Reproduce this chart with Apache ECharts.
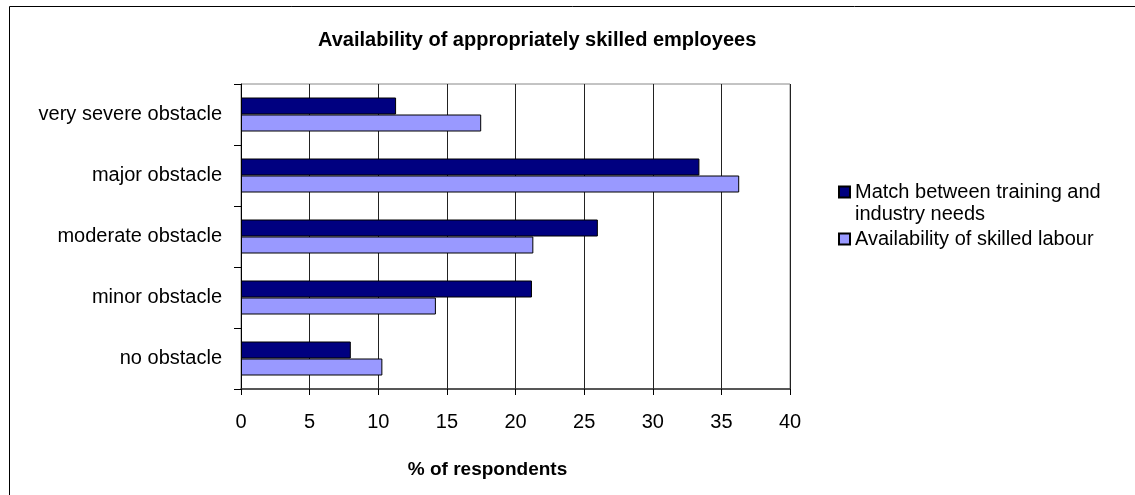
<!DOCTYPE html>
<html>
<head>
<meta charset="utf-8">
<script src="https://cdn.jsdelivr.net/npm/echarts@6/dist/echarts.min.js"></script>
<style>
html,body{margin:0;padding:0;background:#fff;}
#c{width:1135px;height:495px;}
</style>
</head>
<body>
<div id="c"></div>
<script>
var categories = ['very severe obstacle', 'major obstacle', 'moderate obstacle', 'minor obstacle', 'no obstacle'];
var seriesNames = ['Match between training and industry needs', 'Availability of skilled labour'];
var matchValues = [11.3, 33.4, 26.0, 21.2, 8.0];
var skilledValues = [17.5, 36.3, 21.3, 14.2, 10.3];
var xTicks = [0, 5, 10, 15, 20, 25, 30, 35, 40];

var FONT = '"Liberation Sans", Arial, sans-serif';
var chart = echarts.init(document.getElementById('c'), null, {renderer: 'canvas'});
chart.setOption({
  backgroundColor: '#fff',
  animation: false,
  title: {
    text: 'Availability of appropriately skilled employees',
    left: 318, top: 30, padding: 0,
    textStyle: {fontFamily: FONT, fontSize: 20, fontWeight: 'bold', color: '#000'}
  },
  graphic: [{
    type: 'rect', silent: true, z: 100,
    shape: {x: 9.5, y: 6.5, width: 1300, height: 700},
    style: {fill: 'none', stroke: '#000', lineWidth: 1}
  }],
  legend: [{
    data: [seriesNames[0]],
    orient: 'vertical', left: 833, top: 176,
    itemWidth: 11, itemHeight: 33,
    icon: 'path://M0,0L11,0L11,11L0,11Z M0,33L0,33',
    formatter: function () { return 'Match between training and\nindustry needs'; },
    textStyle: {fontFamily: FONT, fontSize: 20, color: '#000', lineHeight: 22}
  }, {
    data: [seriesNames[1]],
    orient: 'vertical', left: 833, top: 223,
    itemWidth: 11, itemHeight: 11,
    icon: 'rect',
    textStyle: {fontFamily: FONT, fontSize: 20, color: '#000', lineHeight: 22}
  }],
  grid: {
    left: 241, right: 345, top: 84, bottom: 106,
    show: true, borderColor: '#888', borderWidth: 1, backgroundColor: '#fff'
  },
  xAxis: {
    type: 'value', min: xTicks[0], max: xTicks[xTicks.length - 1], interval: 5,
    name: '% of respondents', nameLocation: 'middle', nameGap: 71,
    nameTextStyle: {fontFamily: FONT, fontSize: 19, fontWeight: 'bold', color: '#000', padding: [0, 56, 0, 0]},
    axisLine: {show: true, lineStyle: {color: '#333', width: 1.5}},
    axisTick: {show: true, length: 6, lineStyle: {color: '#000'}},
    axisLabel: {fontFamily: FONT, fontSize: 20, color: '#000', margin: 23},
    splitLine: {show: true, lineStyle: {color: '#222', width: 1}}
  },
  yAxis: {
    type: 'category', data: categories, inverse: true,
    axisLine: {show: true, lineStyle: {color: '#000', width: 1}},
    axisTick: {show: true, length: 7, lineStyle: {color: '#000'}},
    axisLabel: {fontFamily: FONT, fontSize: 20, color: '#000', margin: 19},
    splitLine: {show: false}
  },
  series: [{
    name: seriesNames[0], type: 'bar', data: matchValues,
    barWidth: 17, barGap: '0%',
    itemStyle: {color: '#000080', borderColor: '#000', borderWidth: 1}
  }, {
    name: seriesNames[1], type: 'bar', data: skilledValues,
    barWidth: 17, barGap: '0%',
    itemStyle: {color: '#9999FF', borderColor: '#000', borderWidth: 1}
  }]
});
</script>
</body>
</html>
